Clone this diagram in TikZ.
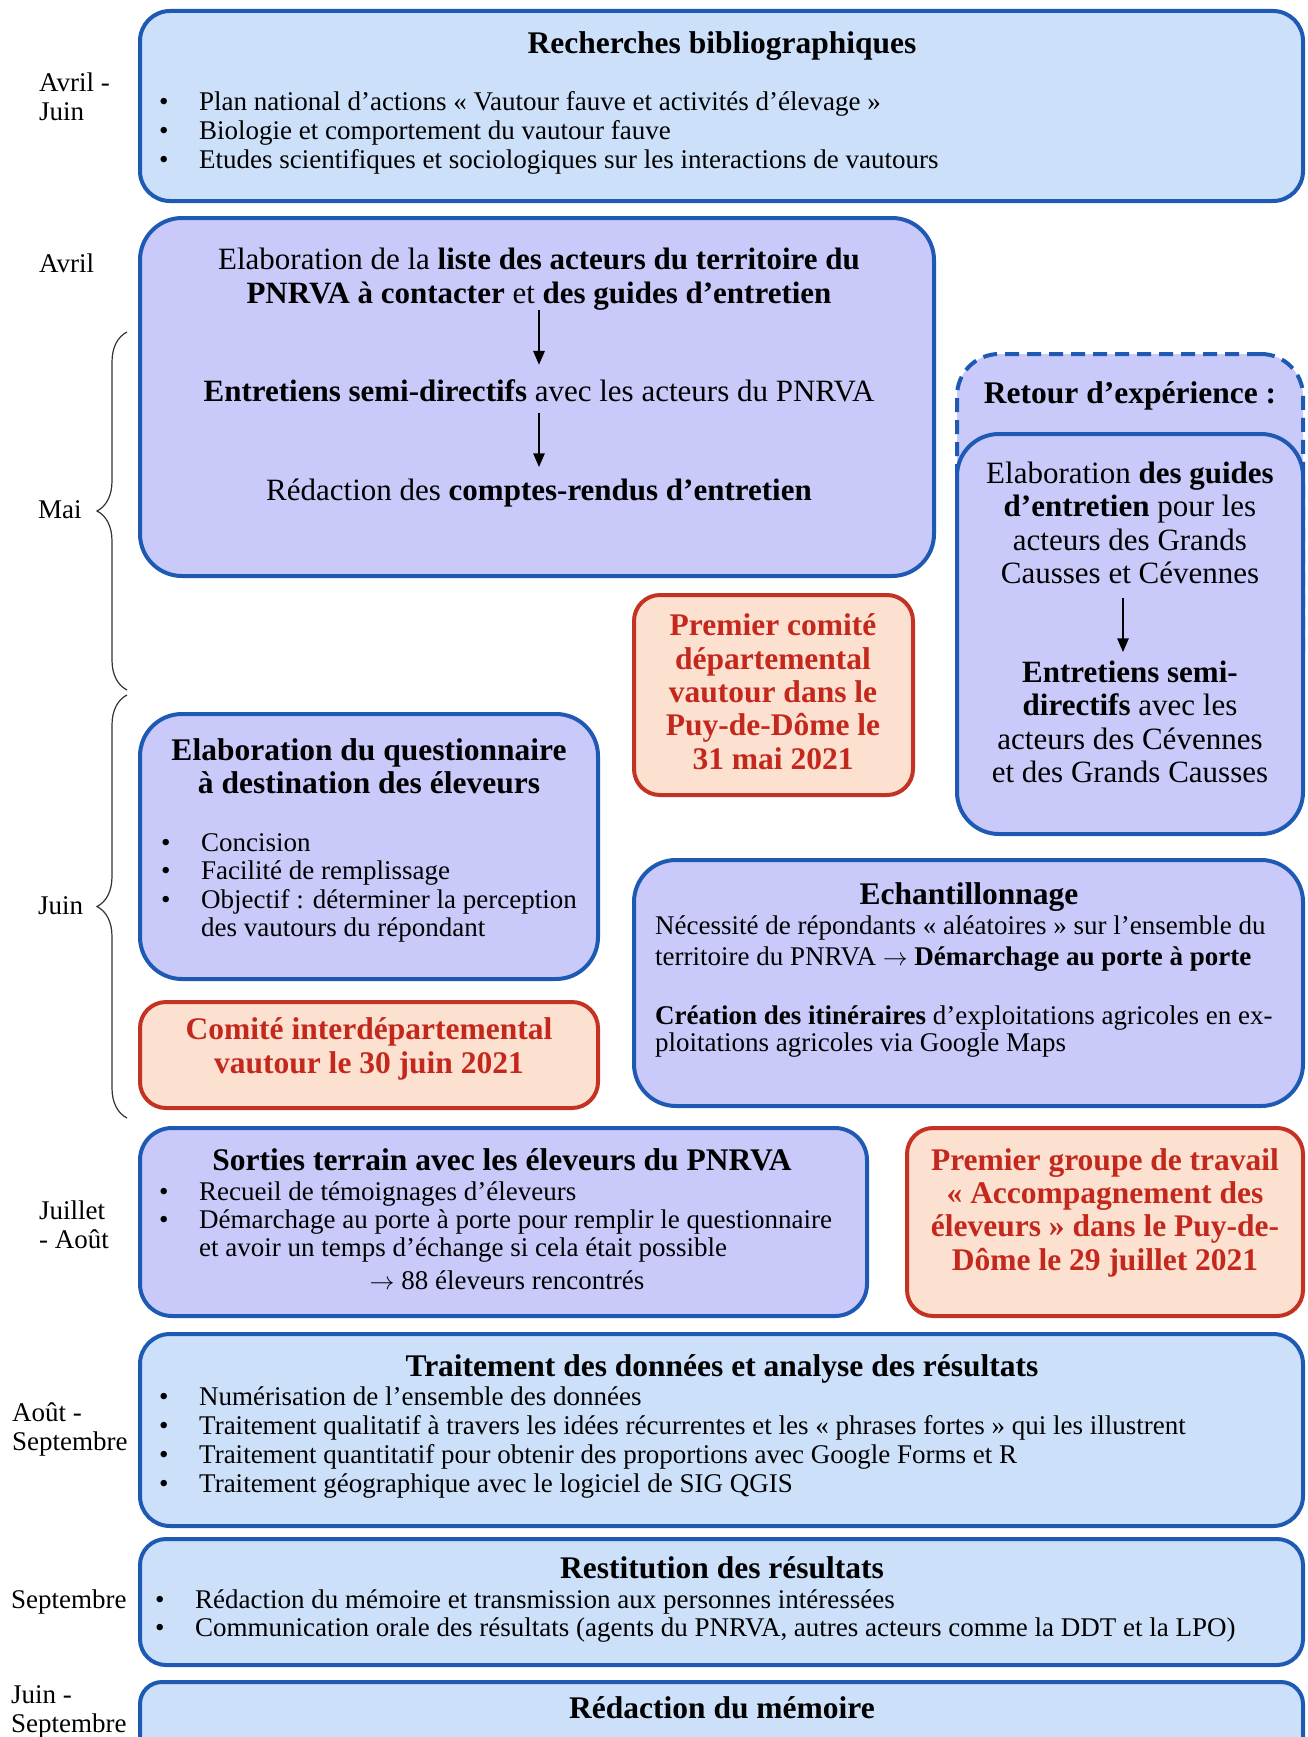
\documentclass[tikz,border=0pt]{standalone}
\usepackage{fontspec}
\setmainfont{Liberation Serif}
\usetikzlibrary{arrows.meta,decorations.pathreplacing}

\definecolor{boxblue}{RGB}{30,90,180}
\definecolor{lightblue}{RGB}{204,224,250}
\definecolor{lavender}{RGB}{202,202,250}
\definecolor{peach}{RGB}{252,224,208}
\definecolor{boxred}{RGB}{196,50,36}
\definecolor{redtext}{RGB}{196,40,28}

\newcommand\itm{\makebox[40pt][l]{\textbullet}}
\newcommand\cont{\hspace*{40pt}}
\newcommand\toarrow{$\rightarrow$}

\begin{document}
\begin{tikzpicture}[x=1pt, y=-1pt,
    boxframe/.style={draw=boxblue, line width=4pt, inner sep=0pt},
    bluebox/.style={boxframe, fill=lightblue, rounded corners=30pt},
    lilacbox/.style={boxframe, fill=lavender, rounded corners=42pt},
    redbox/.style={draw=boxred, fill=peach, line width=4pt, inner sep=0pt, rounded corners=26pt},
    body/.style={font=\fontsize{27}{29}\selectfont, inner sep=0pt, align=left, anchor=base west},
    big/.style={font=\fontsize{31}{33.5}\selectfont, inner sep=0pt, align=center, anchor=base},
    heading/.style={font=\fontsize{31.5}{33}\selectfont\bfseries, inner sep=0pt, align=center, anchor=base},
    redtitle/.style={heading, text=redtext, font=\fontsize{31.5}{33.3}\selectfont\bfseries},
    flowarrow/.style={-{Triangle[length=14pt,width=11pt]}, line width=2.8pt},
    monthbrace/.style={decorate, decoration={brace, amplitude=30pt}, line width=1.2pt, black!80}
  ]
    \useasboundingbox (0,0) rectangle (1307,1737);

    % months (a multi-line node sits on its last line)
    \node[body] (m-avrjuin) at (39,120) {Avril -\\Juin};
    \node[body] (m-avril) at (39,272) {Avril};
    \node[body] (m-mai) at (38,518) {Mai};
    \node[body] (m-juin) at (38,914) {Juin};
    \node[body] (m-juilaout) at (39,1248) {Juillet\\- Août};
    \node[body] (m-aoutsept) at (12,1450) {Août -\\Septembre};
    \node[body] (m-sept) at (11,1608) {Septembre};
    \node[body] (m-juinsept) at (11,1732) {Juin -\\Septembre};

    \coordinate (mai-top) at (127,332);
    \coordinate (mai-bot) at (127,690);
    \coordinate (juin-top) at (127,695);
    \coordinate (juin-bot) at (127,1118);
    \draw[monthbrace] (mai-bot) -- (mai-top);
    \draw[monthbrace] (juin-bot) -- (juin-top);

    % recherches bibliographiques
    \node[bluebox, minimum width=1163pt, minimum height=190pt] (biblio) at (721.5,106) {};
    \node[heading] (biblio-t) at (722,54) {Recherches bibliographiques};
    \node[body] (biblio-l) at (159,168) {\itm Plan national d’actions « Vautour fauve et activités d’élevage »\\
      \itm Biologie et comportement du vautour fauve\\
      \itm Etudes scientifiques et sociologiques sur les interactions de vautours};

    % acteurs du PNRVA
    \node[lilacbox, minimum width=794pt, minimum height=358pt] (acteurs) at (537,397) {};
    \node[big] (acteurs-liste) at (539,303) {Elaboration de la \textbf{liste des acteurs du territoire du}\\
      \textbf{PNRVA à contacter} et \textbf{des guides d’entretien}};
    \node[big] (acteurs-entretiens) at (539,401) {\textbf{Entretiens semi-directifs} avec les acteurs du PNRVA};
    \node[big] (acteurs-cr) at (539,500) {Rédaction des \textbf{comptes-rendus d’entretien}};
    \draw[flowarrow, shorten >=14pt] (acteurs-liste.south) -- (acteurs-entretiens.north);
    \draw[flowarrow, shorten <=11pt, shorten >=11pt] (acteurs-entretiens.south) -- (acteurs-cr.north);

    % retour d'experience
    \node[lilacbox, dash pattern=on 14pt off 8pt, minimum width=346pt, minimum height=346pt] (retour) at (1130,527) {};
    \node[heading] (retour-t) at (1130,403) {Retour d’expérience :};
    \node[lilacbox, minimum width=346pt, minimum height=400pt] (retour-in) at (1130,634) {};
    \node[big] (retour-guides) at (1130,583.5) {Elaboration \textbf{des guides}\\
      \textbf{d’entretien} pour les\\acteurs des Grands\\Causses et Cévennes};
    \node[big] (retour-entretiens) at (1130,782.5) {\textbf{Entretiens semi-}\\
      \textbf{directifs} avec les\\acteurs des Cévennes\\et des Grands Causses};
    \draw[flowarrow, shorten <=14pt, shorten >=8pt] ([xshift=-7pt]retour-guides.south)
      -- ([xshift=-7pt]retour-guides.south |- retour-entretiens.north);

    % premier comite
    \node[redbox, minimum width=279pt, minimum height=200pt] (comite-dep) at (773.5,695) {};
    \node[redtitle] (comite-dep-t) at (773,769) {Premier comité\\départemental\\vautour dans le\\Puy-de-Dôme le\\31 mai 2021};

    % questionnaire
    \node[lilacbox, minimum width=458pt, minimum height=265pt] (questionnaire) at (369,846.5) {};
    \node[heading] (questionnaire-t) at (369,793) {Elaboration du questionnaire\\à destination des éleveurs};
    \node[body, font=\fontsize{27}{28.5}\selectfont] (questionnaire-l) at (161,936.5) {\itm Concision\\
      \itm Facilité de remplissage\\
      \itm Objectif : déterminer la perception\\
      \cont des vautours du répondant};

    % comite interdepartemental
    \node[redbox, minimum width=458pt, minimum height=106pt] (comite-inter) at (369,1055) {};
    \node[redtitle] (comite-inter-t) at (369,1073) {Comité interdépartemental\\vautour le 30 juin 2021};

    % echantillonnage
    \node[lilacbox, minimum width=669pt, minimum height=246pt] (echantillon) at (968.5,983) {};
    \node[heading] (echantillon-t) at (969,904) {Echantillonnage};
    \node[body, font=\fontsize{27}{31}\selectfont] (echantillon-l) at (655,965) {Nécessité de répondants « aléatoires » sur l’ensemble du\\
      territoire du PNRVA \toarrow\ \textbf{Démarchage au porte à porte}};
    \node[body, font=\fontsize{27}{27}\selectfont] (echantillon-it) at (655,1051) {\textbf{Création des itinéraires} d’exploitations agricoles en ex-\\
      ploitations agricoles via Google Maps};

    % sorties terrain
    \node[lilacbox, rounded corners=32pt, minimum width=727pt, minimum height=188pt] (sorties) at (503.5,1222) {};
    \node[heading] (sorties-t) at (502,1170) {Sorties terrain avec les éleveurs du PNRVA};
    \node[body, font=\fontsize{27}{28}\selectfont] (sorties-l) at (159,1256) {\itm Recueil de témoignages d’éleveurs\\
      \itm Démarchage au porte à porte pour remplir le questionnaire\\
      \cont et avoir un temps d’échange si cela était possible};
    \node[body, anchor=base] (sorties-n) at (507,1289) {\toarrow\ 88 éleveurs rencontrés};

    % groupe de travail
    \node[redbox, minimum width=396pt, minimum height=188pt] (groupe) at (1105,1222) {};
    \node[redtitle] (groupe-t) at (1105,1270) {Premier groupe de travail\\« Accompagnement des\\éleveurs » dans le Puy-de-\\Dôme le 29 juillet 2021};

    % traitement
    \node[bluebox, minimum width=1163pt, minimum height=192pt] (traitement) at (721.5,1430) {};
    \node[heading] (traitement-t) at (722,1376) {Traitement des données et analyse des résultats};
    \node[body, font=\fontsize{27}{28.7}\selectfont] (traitement-l) at (159,1492) {\itm Numérisation de l’ensemble des données\\
      \itm Traitement qualitatif à travers les idées récurrentes et les « phrases fortes » qui les illustrent\\
      \itm Traitement quantitatif pour obtenir des proportions avec Google Forms et R\\
      \itm Traitement géographique avec le logiciel de SIG QGIS};

    % restitution
    \node[bluebox, rounded corners=26pt, minimum width=1163pt, minimum height=126pt] (restitution) at (721.5,1602) {};
    \node[heading] (restitution-t) at (722,1578) {Restitution des résultats};
    \node[body, font=\fontsize{27}{28}\selectfont] (restitution-l) at (155,1636) {\itm Rédaction du mémoire et transmission aux personnes intéressées\\
      \itm Communication orale des résultats (agents du PNRVA, autres acteurs comme la DDT et la LPO)};

    % memoire
    \node[bluebox, rounded corners=22pt, minimum width=1163pt, minimum height=98pt] (memoire) at (721.5,1731) {};
    \node[heading] (memoire-t) at (722,1718) {Rédaction du mémoire};
  \end{tikzpicture}
\end{document}
